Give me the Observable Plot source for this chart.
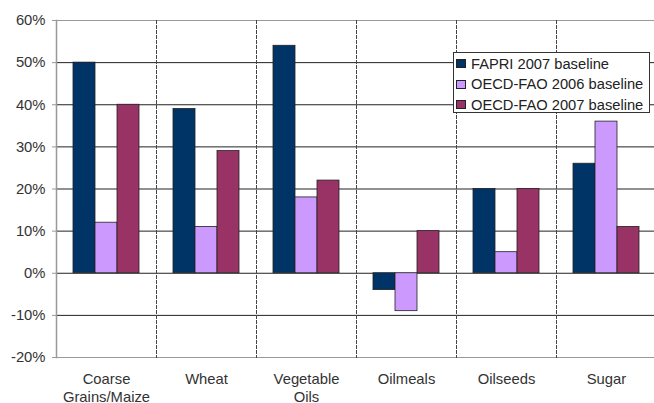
<!DOCTYPE html>
<html><head><meta charset="utf-8">
<script src="https://cdn.jsdelivr.net/npm/d3@7"></script>
<script src="https://cdn.jsdelivr.net/npm/@observablehq/plot@0.6"></script>
<style>
html,body{margin:0;padding:0;background:#fff;overflow:hidden}
#wrap{position:relative;width:654px;height:403px;font-family:"Liberation Sans",Arial,sans-serif}
#legend{position:absolute;left:453px;top:52px;width:197px;height:61px;border:1px solid #333;background:#fff;box-sizing:border-box;font-size:14.7px;color:#222}
.row{position:absolute;left:2px;height:20px;display:flex;align-items:center;white-space:nowrap}
.sw{width:8px;height:7px;border:1px solid #222;margin-right:5px}
</style></head><body><div id="wrap"><div id="chart"></div><div id="legend"></div></div>
<script>
const categories = ["Coarse Grains/Maize","Wheat","Vegetable Oils","Oilmeals","Oilseeds","Sugar"];
const categoryLabels = ["Coarse\nGrains/Maize","Wheat","Vegetable\nOils","Oilmeals","Oilseeds","Sugar"];
const series = ["FAPRI 2007 baseline","OECD-FAO 2006 baseline","OECD-FAO 2007 baseline"];
const fapri2007 = [50,39,54,-4,20,26];
const oecdFao2006 = [12,11,18,-9,5,36];
const oecdFao2007 = [40,29,22,10,20,11];
const colors = ["#003366","#cc99ff","#993366"];
const yTicks = [-20,-10,0,10,20,30,40,50,60];
const gridTicks = [-10,0,10,20,30,40,50];
const borderTicks = [-20,60];

const seriesValues = [fapri2007, oecdFao2006, oecdFao2007];
const data = categories.flatMap((c,i)=>series.map((s,j)=>({cat:c, series:s, value:seriesValues[j][i]})));

const chart = Plot.plot({
  width:654, height:403,
  marginLeft:54, marginRight:-4, marginTop:20, marginBottom:46,
  style:{fontFamily:'"Liberation Sans",Arial,sans-serif', fontSize:"14.8px", color:"#333", background:"#fff"},
  fx:{domain:categories, padding:0, axis:null},
  x:{domain:series, paddingInner:0, paddingOuter:0.76, axis:null},
  y:{domain:[-20,60], label:null},
  color:{domain:series, range:colors},
  marks:[
    Plot.ruleY(gridTicks,{stroke:"#222", strokeWidth:1}),
    Plot.ruleY(borderTicks,{stroke:"#999", strokeWidth:1}),
    Plot.frame({anchor:"right", stroke:"#444", strokeDasharray:"3,2"}),
    Plot.barY(data,{fx:"cat", x:"series", y:"value", fill:"series", stroke:"#222", strokeWidth:0.8}),
    Plot.frame({anchor:"left", facetAnchor:"left", stroke:"#999", strokeWidth:1.5}),
    Plot.axisY({ticks:yTicks, tickFormat:d=>d+"%", tickSize:4, tickPadding:7, stroke:"#999", label:null}),
    Plot.text(categories,{fx:d=>d, text:(d,i)=>categoryLabels[i], frameAnchor:"bottom", lineAnchor:"top", dy:13, lineHeight:1.24, fill:"#333"})
  ]
});
document.getElementById("chart").appendChild(chart);

const legend = document.getElementById("legend");
series.forEach((s,i)=>{
  const row = document.createElement("div");
  row.className = "row";
  row.style.top = (0.5 + 20.5*i) + "px";
  const sw = document.createElement("div");
  sw.className = "sw";
  sw.style.background = colors[i];
  const t = document.createElement("span");
  t.textContent = s;
  row.appendChild(sw); row.appendChild(t);
  legend.appendChild(row);
});
</script></body></html>
